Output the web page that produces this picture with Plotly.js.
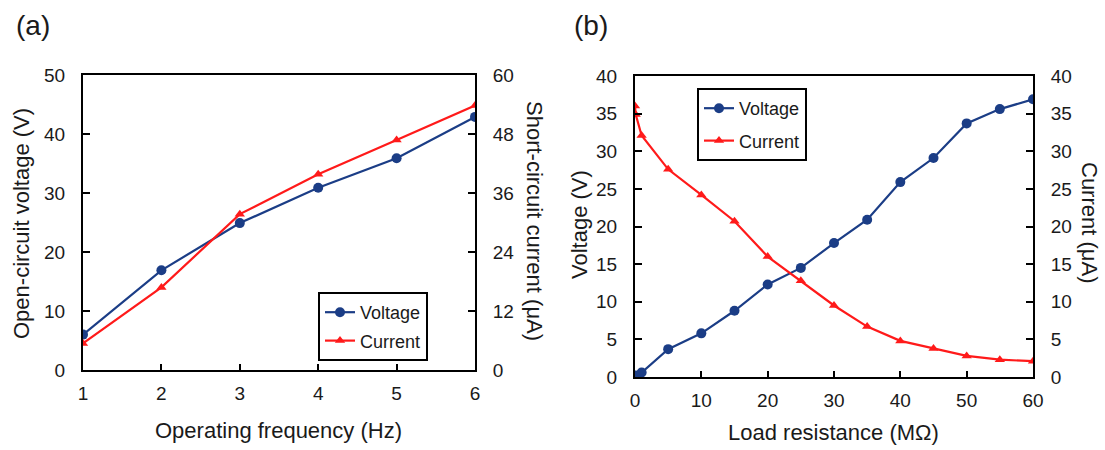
<!DOCTYPE html>
<html>
<head>
<meta charset="utf-8">
<script src="https://cdn.plot.ly/plotly-3.0.1.min.js"></script>
<style>html,body{margin:0;padding:0;background:#fff;} #chart{width:1105px;height:450px;}</style>
</head>
<body>
<div id="chart"></div>
<script>
// Panel (a): frequency sweep
const freqHz = [1, 2, 3, 4, 5, 6];
const freqVoltage = [6.0, 16.9, 24.9, 30.9, 35.9, 42.9];
const freqCurrent = [5.4, 16.8, 31.7, 39.8, 46.8, 53.8];

// Panel (b): load resistance sweep
const loadMOhm = [0, 0.1, 1, 5, 10, 15, 20, 25, 30, 35, 40, 45, 50, 55, 60];
const loadVoltage = [0, 0.2, 0.6, 3.7, 5.8, 8.8, 12.3, 14.5, 17.8, 20.9, 25.9, 29.1, 33.7, 35.6, 36.9];
const loadCurrent = [36.0, 34.9, 32.1, 27.6, 24.2, 20.7, 16.0, 12.8, 9.5, 6.7, 4.8, 3.8, 2.8, 2.3, 2.1];

const blue = '#1B3D86';
const red = '#FF1A1A';
const txt = '#1a1a1a';
const fontFam = 'Arial, "Liberation Sans", sans-serif';

const traces = [
  {x: freqHz, y: freqVoltage, name: 'Voltage', xaxis: 'x', yaxis: 'y', mode: 'lines+markers', legendgroup: 'a1',
   line: {color: blue, width: 2.2}, marker: {symbol: 'circle', size: 10, color: blue}, legend: 'legend'},
  {x: freqHz, y: freqCurrent, name: 'Current', xaxis: 'x', yaxis: 'y2', mode: 'lines+markers', legendgroup: 'a2',
   line: {color: red, width: 2.2}, marker: {symbol: 'triangle-up', size: 9, color: red}, legend: 'legend'},
  {x: loadMOhm, y: loadVoltage, name: 'Voltage', xaxis: 'x2', yaxis: 'y3', mode: 'lines+markers', legendgroup: 'b1',
   line: {color: blue, width: 2.2}, marker: {symbol: 'circle', size: 10, color: blue}, legend: 'legend2'},
  {x: loadMOhm, y: loadCurrent, name: 'Current', xaxis: 'x2', yaxis: 'y4', mode: 'lines+markers', legendgroup: 'b2',
   line: {color: red, width: 2.2}, marker: {symbol: 'triangle-up', size: 9, color: red}, legend: 'legend2'}
];

const axBase = {
  showline: true, linecolor: '#000', linewidth: 2, ticks: 'inside', ticklen: 7, tickwidth: 2,
  tickcolor: '#000', showgrid: false, zeroline: false, tickfont: {family: fontFam, size: 19, color: txt},
  ticklabelstandoff: 12
};

const H = 450, W = 1105;
const xa = Object.assign({}, axBase, {ticklabelstandoff: 5, ticklen: 6});
const ann = (text, px, py, size, angle) => ({
  text: text, xref: 'paper', yref: 'paper', x: px / W, y: 1 - py / H, xanchor: 'center', yanchor: 'middle',
  showarrow: false, textangle: angle || 0, font: {family: fontFam, size: size, color: txt}
});
const layout = {
  width: W, height: H,
  margin: {l: 0, r: 0, t: 0, b: 0},
  paper_bgcolor: '#fff', plot_bgcolor: '#fff',
  font: {family: fontFam, color: txt},
  xaxis: Object.assign({}, xa, {domain: [83/W, 475/W], range: [1, 6], dtick: 1, anchor: 'y', mirror: true}),
  yaxis: Object.assign({}, axBase, {domain: [1 - 370/H, 1 - 75/H], range: [0, 50], dtick: 10, anchor: 'x'}),
  yaxis2: Object.assign({}, axBase, {domain: [1 - 370/H, 1 - 75/H], range: [0, 60], dtick: 12, anchor: 'x',
    overlaying: 'y', side: 'right'}),
  xaxis2: Object.assign({}, xa, {domain: [635/W, 1033/W], range: [0, 60], dtick: 10, anchor: 'y3', mirror: true}),
  yaxis3: Object.assign({}, axBase, {domain: [1 - 377/H, 1 - 76/H], range: [0, 40], dtick: 5, anchor: 'x2'}),
  yaxis4: Object.assign({}, axBase, {domain: [1 - 377/H, 1 - 76/H], range: [0, 40], dtick: 5, anchor: 'x2',
    overlaying: 'y3', side: 'right'}),
  legend: {x: 318/W, y: 1 - 292/H, xanchor: 'left', yanchor: 'top', bgcolor: '#fff', bordercolor: '#000',
    borderwidth: 2, font: {family: fontFam, size: 18, color: txt}, itemwidth: 30, tracegroupgap: 2},
  legend2: {x: 697/W, y: 1 - 88/H, xanchor: 'left', yanchor: 'top', bgcolor: '#fff', bordercolor: '#000',
    borderwidth: 2, font: {family: fontFam, size: 18, color: txt}, itemwidth: 30, tracegroupgap: 6},
  annotations: [
    ann('(a)', 33, 25, 28),
    ann('(b)', 591, 25, 28),
    ann('Operating frequency (Hz)', 278, 430, 22),
    ann('Load resistance (MΩ)', 833, 432, 22),
    ann('Open-circuit voltage (V)', 21, 224, 22, -90),
    ann('Short-circuit current (μA)', 534, 221, 22, 90),
    ann('Voltage (V)', 579, 225, 22, -90),
    ann('Current (μA)', 1090, 222, 22, 90)
  ],
  showlegend: true
};

Plotly.newPlot('chart', traces, layout, {staticPlot: true, displayModeBar: false});
</script>
</body>
</html>
